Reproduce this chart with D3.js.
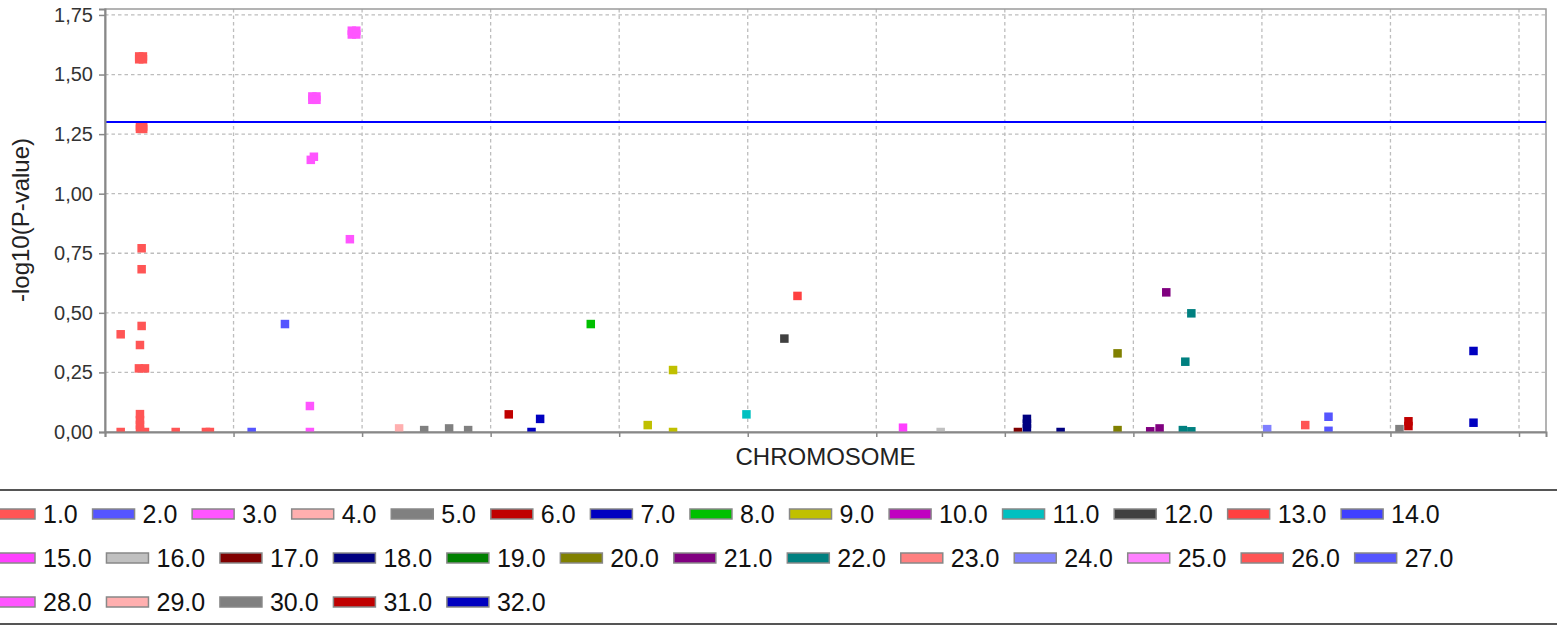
<!DOCTYPE html>
<html lang="en">
<head>
    <meta charset="UTF-8" />
    <title>Manhattan plot</title>
    <script src="https://d3js.org/d3.v7.min.js"></script>
    <style>
        body { margin: 0; background: #fff; }
        svg { display: block; font-family: "Liberation Sans", Arial, sans-serif; }
    </style>
</head>
<body>
    <div id="chart"></div>
    <script>
// chromosome series shown in the legend
var chromosomes = [1, 2, 3, 4, 5, 6, 7, 8, 9, 10, 11, 12, 13, 14, 15, 16,
                   17, 18, 19, 20, 21, 22, 23, 24, 25, 26, 27, 28, 29, 30, 31, 32];
var chromColors = ["#ff5555", "#5555ff", "#ff55ff", "#ffafaf", "#808080", "#c00000", "#0000c0", "#00c000",
                   "#c0c000", "#c000c0", "#00c0c0", "#404040", "#ff4040", "#4040ff", "#ff40ff", "#c0c0c0",
                   "#800000", "#000080", "#008000", "#808000", "#800080", "#008080", "#ff8080", "#8080ff",
                   "#ff80ff", "#ff5555", "#5555ff", "#ff55ff", "#ffafaf", "#808080", "#c00000", "#0000c0"];

// markers: chromosome, position along the axis, -log10(p)
var pointChrom = [1, 1, 1, 1, 1, 1, 1, 1, 1, 1, 1, 1, 1, 1, 1, 1, 1, 1, 1, 1, 1, 1, 1, 1,
                  2, 2,
                  3, 3, 3, 3, 3, 3, 3, 3, 3, 3, 3, 3, 3,
                  4, 5, 5, 5, 6, 7, 7, 8, 9, 9, 9, 11, 12, 13, 15, 16, 17,
                  18, 18, 18, 18, 20, 20, 21, 21, 21, 22, 22, 22, 22,
                  24, 26, 27, 27, 30, 31, 31, 32, 32];
var pointPos = [12.2, 12.2, 26.6, 29.5, 26.6, 29.5, 27.2, 29.7, 27.2, 29.7, 28.5, 28.5, 28.5, 27.2, 26.4, 31.1,
                27.2, 27.2, 27.2, 27.2, 31.1, 55.0, 78.5, 81.6,
                114.1, 140.0,
                159.4, 159.4, 160.1, 162.5, 161.3, 164.5, 161.3, 164.5, 190.5, 192.0, 195.5, 192.0, 195.5,
                228.8, 248.3, 267.7, 282.5, 314.1, 331.8, 338.5, 377.9, 422.2, 441.9, 441.9, 499.0, 528.5, 538.7, 620.8, 650.1, 710.2,
                717.2, 717.2, 717.2, 743.4, 787.7, 787.7, 813.1, 820.4, 825.6, 838.5, 840.4, 845.1, 845.1,
                904.1, 933.7, 951.8, 951.8, 1007.0, 1014.0, 1014.0, 1064.6, 1064.6];
var pointLogP = [0.41, 0.0, 1.576, 1.576, 1.564, 1.564, 1.282, 1.282, 1.272, 1.272, 0.771, 0.683, 0.445, 0.365, 0.267, 0.267,
                 0.075, 0.05, 0.03, 0.01, 0.0, 0.0, 0.0, 0.0,
                 0.0, 0.453,
                 0.109, 0.0, 1.142, 1.155, 1.408, 1.408, 1.394, 1.394, 0.809, 1.684, 1.684, 1.668, 1.668,
                 0.015, 0.008, 0.015, 0.008, 0.074, 0.0, 0.055, 0.453, 0.029, 0.26, 0.0, 0.074, 0.392, 0.571, 0.018, 0.0, 0.0,
                 0.055, 0.035, 0.015, 0.0, 0.33, 0.008, 0.003, 0.015, 0.586, 0.008, 0.295, 0.498, 0.003,
                 0.012, 0.029, 0.064, 0.005, 0.012, 0.045, 0.025, 0.34, 0.039];

var yTicks = [0, 0.25, 0.5, 0.75, 1.0, 1.25, 1.5, 1.75];
var xTicks = [0, 100, 200, 300, 400, 500, 600, 700, 800, 900, 1000, 1100];
var threshold = 1.301; // -log10(0.05)

function drawChart() {
    var width = 1557, height = 628;
    var plotLeft = 105, plotRight = 1546, plotTop = 9, plotBottom = 432;

    var svg = d3.select("#chart").append("svg")
        .attr("width", width)
        .attr("height", height);

    var x = d3.scaleLinear().domain([0, 1121]).range([plotLeft, plotRight]);
    var y = d3.scaleLinear().domain([0, 1.775]).range([plotBottom, plotTop]);

    // grid
    svg.append("g").selectAll("line")
        .data(yTicks.slice(1))
        .enter().append("line")
        .attr("x1", plotLeft).attr("x2", plotRight)
        .attr("y1", function(d) { return y(d); })
        .attr("y2", function(d) { return y(d); })
        .attr("stroke", "#bdbdbd")
        .attr("stroke-width", 1.3)
        .attr("stroke-dasharray", "3.5,3");

    svg.append("g").selectAll("line")
        .data(xTicks.slice(1))
        .enter().append("line")
        .attr("x1", function(d) { return x(d); })
        .attr("x2", function(d) { return x(d); })
        .attr("y1", plotTop).attr("y2", plotBottom)
        .attr("stroke", "#bdbdbd")
        .attr("stroke-width", 1.3)
        .attr("stroke-dasharray", "3.5,3");

    // plot border
    svg.append("rect")
        .attr("x", plotLeft).attr("y", plotTop)
        .attr("width", plotRight - plotLeft).attr("height", plotBottom - plotTop)
        .attr("fill", "none")
        .attr("stroke", "#9a9a9a")
        .attr("stroke-width", 1.5);

    // markers, clipped to the plot area
    svg.append("clipPath").attr("id", "plot-clip")
        .append("rect")
        .attr("x", plotLeft).attr("y", plotTop)
        .attr("width", plotRight - plotLeft).attr("height", plotBottom - plotTop);

    var size = 8.5;
    svg.append("g")
        .attr("clip-path", "url(#plot-clip)")
        .selectAll("rect")
        .data(d3.range(pointChrom.length))
        .enter().append("rect")
        .attr("x", function(i) { return x(pointPos[i]) - size / 2; })
        .attr("y", function(i) { return y(pointLogP[i]) - size / 2; })
        .attr("width", size)
        .attr("height", size)
        .attr("fill", function(i) { return chromColors[chromosomes.indexOf(pointChrom[i])]; });

    // significance line
    svg.append("line")
        .attr("x1", plotLeft).attr("x2", plotRight)
        .attr("y1", y(threshold)).attr("y2", y(threshold))
        .attr("stroke", "#0000ff")
        .attr("stroke-width", 2);

    // axes
    var yAxis = d3.axisLeft(y)
        .tickValues(yTicks)
        .tickSize(6)
        .tickPadding(6)
        .tickFormat(function(d) { return d3.format(".2f")(d).replace(".", ","); });

    var yg = svg.append("g")
        .attr("transform", "translate(" + plotLeft + ",0)")
        .call(yAxis);
    yg.select(".domain").attr("stroke", "#888").attr("stroke-width", 2);
    yg.selectAll(".tick line").attr("stroke", "#888").attr("stroke-width", 1.5);
    yg.selectAll(".tick text")
        .attr("fill", "#333")
        .style("font-size", "20px")
        .style("font-family", "'Liberation Sans', Arial, sans-serif");

    var xAxis = d3.axisBottom(x)
        .tickValues(xTicks)
        .tickSize(5)
        .tickFormat("");

    var xg = svg.append("g")
        .attr("transform", "translate(0," + plotBottom + ")")
        .call(xAxis);
    xg.select(".domain").attr("stroke", "#888").attr("stroke-width", 2);
    xg.selectAll(".tick line").attr("stroke", "#888").attr("stroke-width", 1.5);

    // axis titles
    svg.append("text")
        .attr("x", (plotLeft + plotRight) / 2)
        .attr("y", 465)
        .attr("text-anchor", "middle")
        .attr("fill", "#222")
        .style("font-size", "24px")
        .text("CHROMOSOME");

    svg.append("text")
        .attr("transform", "translate(29,220) rotate(-90)")
        .attr("text-anchor", "middle")
        .attr("fill", "#222")
        .style("font-size", "24px")
        .text("-log10(P-value)");

    // legend
    svg.append("line")
        .attr("x1", 0).attr("x2", width)
        .attr("y1", 490).attr("y2", 490)
        .attr("stroke", "#555").attr("stroke-width", 2);
    svg.append("line")
        .attr("x1", 0).attr("x2", width)
        .attr("y1", 624).attr("y2", 624)
        .attr("stroke", "#555").attr("stroke-width", 2);

    var legend = svg.append("g");
    var cx = -7, row = 0, rowY = [514, 558, 602];
    chromosomes.forEach(function(c, i) {
        var item = legend.append("g");
        var label = item.append("text")
            .attr("y", 0)
            .attr("dy", "0.35em")
            .attr("fill", "#111")
            .style("font-size", "25px")
            .text(d3.format(".1f")(c));
        var tw = label.node().getComputedTextLength();
        var w = 42 + 8 + tw;
        if (cx + w > 1500) { row += 1; cx = -7; }
        item.attr("transform", "translate(" + cx + "," + rowY[row] + ")");
        item.insert("rect", "text")
            .attr("x", 0).attr("y", -5)
            .attr("width", 42).attr("height", 10)
            .attr("fill", chromColors[i])
            .attr("stroke", "#888")
            .attr("stroke-width", 1.5);
        label.attr("x", 50);
        cx += w + 14.8;
    });
}

drawChart();
    </script>
</body>
</html>
